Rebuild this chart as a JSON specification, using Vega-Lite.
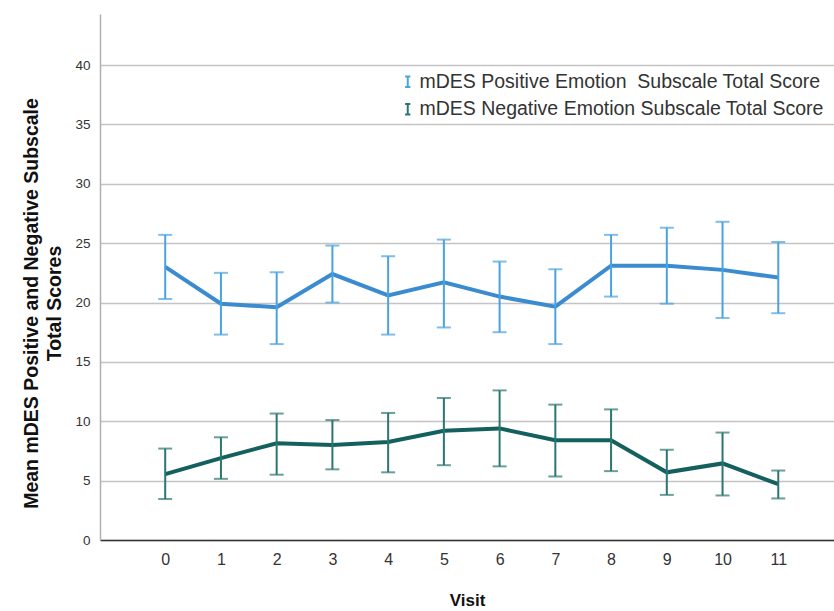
{
  "$schema": "https://vega.github.io/schema/vega-lite/v6.json",
  "width": 734,
  "height": 526,
  "autosize": {"type": "none"},
  "padding": {"left": 100, "top": 14, "right": 0, "bottom": 71},
  "background": "white",
  "config": {
    "view": {"stroke": null},
    "font": "Liberation Sans"
  },
  "data": {
    "values": [
      {"visit": 0, "series": "mDES Positive Emotion  Subscale Total Score", "mean": 23.0, "lo": 20.3, "hi": 25.7},
      {"visit": 1, "series": "mDES Positive Emotion  Subscale Total Score", "mean": 19.9, "lo": 17.3, "hi": 22.5},
      {"visit": 2, "series": "mDES Positive Emotion  Subscale Total Score", "mean": 19.6, "lo": 16.5, "hi": 22.55},
      {"visit": 3, "series": "mDES Positive Emotion  Subscale Total Score", "mean": 22.4, "lo": 20.0, "hi": 24.8},
      {"visit": 4, "series": "mDES Positive Emotion  Subscale Total Score", "mean": 20.6, "lo": 17.3, "hi": 23.9},
      {"visit": 5, "series": "mDES Positive Emotion  Subscale Total Score", "mean": 21.7, "lo": 17.9, "hi": 25.3},
      {"visit": 6, "series": "mDES Positive Emotion  Subscale Total Score", "mean": 20.5, "lo": 17.5, "hi": 23.45},
      {"visit": 7, "series": "mDES Positive Emotion  Subscale Total Score", "mean": 19.65, "lo": 16.5, "hi": 22.8},
      {"visit": 8, "series": "mDES Positive Emotion  Subscale Total Score", "mean": 23.1, "lo": 20.5, "hi": 25.7},
      {"visit": 9, "series": "mDES Positive Emotion  Subscale Total Score", "mean": 23.1, "lo": 19.9, "hi": 26.3},
      {"visit": 10, "series": "mDES Positive Emotion  Subscale Total Score", "mean": 22.75, "lo": 18.7, "hi": 26.8},
      {"visit": 11, "series": "mDES Positive Emotion  Subscale Total Score", "mean": 22.1, "lo": 19.1, "hi": 25.1},
      {"visit": 0, "series": "mDES Negative Emotion Subscale Total Score", "mean": 5.55, "lo": 3.45, "hi": 7.7},
      {"visit": 1, "series": "mDES Negative Emotion Subscale Total Score", "mean": 6.9, "lo": 5.15, "hi": 8.65},
      {"visit": 2, "series": "mDES Negative Emotion Subscale Total Score", "mean": 8.15, "lo": 5.5, "hi": 10.65},
      {"visit": 3, "series": "mDES Negative Emotion Subscale Total Score", "mean": 8.0, "lo": 5.95, "hi": 10.1},
      {"visit": 4, "series": "mDES Negative Emotion Subscale Total Score", "mean": 8.25, "lo": 5.7, "hi": 10.7},
      {"visit": 5, "series": "mDES Negative Emotion Subscale Total Score", "mean": 9.2, "lo": 6.3, "hi": 11.96},
      {"visit": 6, "series": "mDES Negative Emotion Subscale Total Score", "mean": 9.4, "lo": 6.2, "hi": 12.6},
      {"visit": 7, "series": "mDES Negative Emotion Subscale Total Score", "mean": 8.4, "lo": 5.35, "hi": 11.4},
      {"visit": 8, "series": "mDES Negative Emotion Subscale Total Score", "mean": 8.4, "lo": 5.8, "hi": 11.0},
      {"visit": 9, "series": "mDES Negative Emotion Subscale Total Score", "mean": 5.7, "lo": 3.8, "hi": 7.6},
      {"visit": 10, "series": "mDES Negative Emotion Subscale Total Score", "mean": 6.45, "lo": 3.75, "hi": 9.05},
      {"visit": 11, "series": "mDES Negative Emotion Subscale Total Score", "mean": 4.7, "lo": 3.5, "hi": 5.85}
    ]
  },
  "encoding": {
    "x": {
      "field": "visit",
      "type": "quantitative",
      "scale": {"domain": [-1.17, 12.0], "nice": false, "zero": false},
      "axis": {
        "title": "Visit",
        "titleFont": "Liberation Sans",
        "titleFontSize": 17,
        "titleFontWeight": "bold",
        "titleColor": "#111",
        "titlePadding": 25,
        "values": [0,1,2,3,4,5,6,7,8,9,10,11],
        "format": "d",
        "labelFontSize": 16,
        "labelColor": "#333",
        "labelPadding": 11,
        "ticks": false,
        "grid": false,
        "domainColor": "#333",
        "domainWidth": 1.5
      }
    },
    "y": {
      "field": "mean",
      "type": "quantitative",
      "scale": {"domain": [0, 44.3], "nice": false},
      "axis": {
        "title": ["Mean mDES Positive and Negative Subscale", "Total Scores"],
        "titleFont": "Liberation Sans",
        "titleFontSize": 19.5,
        "titleFontWeight": "bold",
        "titleColor": "#111",
        "titleLineHeight": 23,
        "titleY": 289,
        "titlePadding": 10,
        "values": [0,5,10,15,20,25,30,35,40],
        "labelFontSize": 13.5,
        "labelColor": "#333",
        "labelPadding": 10,
        "ticks": false,
        "grid": true,
        "gridColor": "#c4c4c4",
        "gridWidth": 1.3,
        "domainColor": "#b0b0b0",
        "domainWidth": 1.5
      }
    }
  },
  "layer": [
    {
      "mark": {"type": "line", "strokeWidth": 4},
      "encoding": {
        "color": {
          "field": "series",
          "type": "nominal",
          "scale": {
            "domain": ["mDES Positive Emotion  Subscale Total Score", "mDES Negative Emotion Subscale Total Score"],
            "range": ["#3b8bd0", "#14605e"]
          },
          "legend": null
        }
      }
    },
    {
      "mark": {"type": "rule", "strokeWidth": 2},
      "encoding": {
        "y": {"field": "lo", "type": "quantitative"},
        "y2": {"field": "hi"},
        "color": {
          "field": "series",
          "type": "nominal",
          "scale": {
            "domain": ["mDES Positive Emotion  Subscale Total Score", "mDES Negative Emotion Subscale Total Score"],
            "range": ["#4aa3df", "#2a7671"]
          },
          "legend": {
            "title": null,
            "orient": "none",
            "legendX": 298,
            "legendY": 58,
            "symbolType": "M-0.5,-1H0.5M0,-1V1M-0.5,1H0.5",
            "symbolSize": 110,
            "symbolStrokeWidth": 2,
            "symbolFillColor": "transparent",
            "labelFontSize": 19.5,
            "labelColor": "#333",
            "labelFont": "Liberation Sans",
            "labelOffset": 2,
            "labelLimit": 700,
            "labelExpr": "replace(datum.label, '  ', '\u00a0 ')",
            "rowPadding": 6.5,
            "padding": 0
          }
        }
      }
    },
    {
      "mark": {"type": "tick", "orient": "horizontal", "size": 14, "thickness": 2},
      "encoding": {
        "y": {"field": "lo", "type": "quantitative"},
        "color": {
          "field": "series",
          "type": "nominal",
          "scale": {
            "domain": ["mDES Positive Emotion  Subscale Total Score", "mDES Negative Emotion Subscale Total Score"],
            "range": ["#4aa3df", "#2a7671"]
          },
          "legend": null
        }
      }
    },
    {
      "mark": {"type": "tick", "orient": "horizontal", "size": 14, "thickness": 2},
      "encoding": {
        "y": {"field": "hi", "type": "quantitative"},
        "color": {
          "field": "series",
          "type": "nominal",
          "scale": {
            "domain": ["mDES Positive Emotion  Subscale Total Score", "mDES Negative Emotion Subscale Total Score"],
            "range": ["#4aa3df", "#2a7671"]
          },
          "legend": null
        }
      }
    }
  ],
  "resolve": {"scale": {"color": "independent"}}
}
